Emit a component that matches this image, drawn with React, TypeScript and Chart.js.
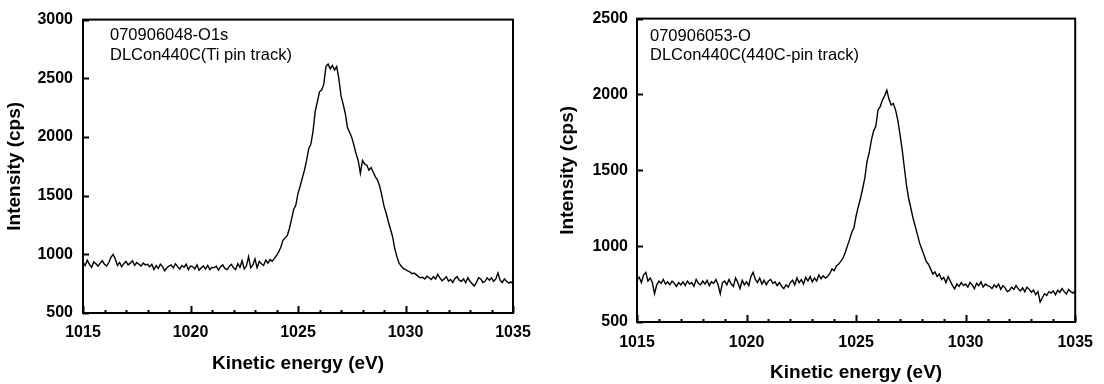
import React, { useEffect, useRef } from "react";
import { Chart, registerables } from "chart.js";

Chart.register(...registerables);

// Sampling grid of the spectra (kinetic energy, eV)
const ENERGY_START = 1015;
const ENERGY_STEP = 0.1;

const xTickValues = [1015, 1020, 1025, 1030, 1035];
const leftYTicks = [500, 1000, 1500, 2000, 2500, 3000];
const rightYTicks = [500, 1000, 1500, 2000, 2500];

const leftLabelLines = ["070906048-O1s", "DLCon440C(Ti pin track)"];
const rightLabelLines = ["070906053-O", "DLCon440C(440C-pin track)"];

// Intensity (cps), left panel
const leftCounts = [
  930, 905, 950, 915, 890, 935, 920, 900, 925, 945, 915,
  900, 930, 975, 1000, 960, 905, 930, 895, 920, 940,
  910, 925, 945, 905, 930, 915, 900, 925, 910, 915,
  895, 915, 870, 905, 880, 915, 895, 860, 885, 900,
  910, 885, 920, 895, 875, 905, 890, 915, 870, 900,
  895, 875, 910, 865, 885, 900, 875, 905, 870, 890,
  885, 900, 865, 895, 910, 880, 870, 895, 915, 885,
  870, 920, 890, 945, 875, 900, 980, 885, 910, 960,
  885, 940, 920, 905, 950, 925, 955, 940, 965, 990,
  1020, 1060, 1120, 1140, 1160, 1220, 1300, 1383, 1420, 1520,
  1580, 1650, 1717, 1800, 1900, 1940, 2050, 2218, 2300, 2385,
  2400, 2450, 2600, 2622, 2580, 2610, 2570, 2600, 2497, 2350,
  2280, 2200, 2080, 2040, 1996, 1930, 1857, 1800, 1690, 1800,
  1770, 1760, 1717, 1740, 1700, 1660, 1633, 1580, 1500, 1411,
  1350, 1280, 1216, 1150, 1049, 980, 924, 900, 880, 869,
  860, 850, 835, 840, 827, 810, 800, 805, 790, 814,
  800, 785, 810, 790, 830, 800, 775, 790, 810, 772,
  785, 760, 795, 810, 780, 770, 790, 758, 800, 770,
  750, 730, 760, 800, 790, 760, 770, 800, 780, 800,
  770, 790, 841, 780, 760, 790, 770, 755, 765, 750,
];

// Intensity (cps), right panel
const rightCounts = [
  780, 795, 760, 810, 827, 770, 790, 760, 686, 745, 770,
  755, 780, 750, 765, 745, 770, 755, 735, 760, 745,
  765, 740, 770, 750, 760, 735, 780, 755, 745, 770,
  750, 775, 740, 765, 755, 780, 745, 686, 760, 770,
  745, 780, 750, 735, 790, 760, 720, 775, 745, 765,
  740, 800, 827, 780, 760, 790, 750, 775, 745, 770,
  780, 755, 765, 740, 760, 735, 720, 745, 730, 760,
  775, 745, 790, 760, 780, 750, 795, 770, 800, 765,
  790, 770, 810, 785, 805, 790, 800, 820, 850, 838,
  870, 881, 900, 920, 957, 1000, 1043, 1090, 1119, 1200,
  1260, 1314, 1380, 1450, 1560, 1617, 1700, 1760, 1790, 1898,
  1920, 1963, 1990, 2028, 1970, 1931, 1940, 1898, 1833, 1740,
  1640, 1520, 1400, 1314, 1250, 1184, 1130, 1076, 1020, 980,
  940, 900, 881, 850, 816, 830, 800, 816, 780, 794,
  760, 800, 770, 740, 719, 750, 735, 760, 740, 751,
  730, 760, 745, 720, 755, 740, 765, 730, 750, 740,
  735, 720, 745, 729, 750, 715, 740, 725, 700, 708,
  730, 715, 740, 719, 705, 725, 700, 730, 715, 697,
  710, 680, 700, 632, 660, 686, 675, 700, 690, 705,
  680, 710, 695, 720, 700, 685, 715, 700, 690, 705,
];

const FONT = "'Liberation Sans', Arial, Helvetica, sans-serif";

type PanelCfg = {
  counts: number[];
  yMin: number;
  yMax: number;
  yTicks: number[];
  lines: string[];
  width: number;
  padTop: number;
  padRight: number;
  yAxisWidth: number;
  xAxisHeight: number;
  xTickPad: number;
  yTickPad: number;
  yTitlePad: number;
  xTitlePad: number;
  textDx: number;
  textY: number[];
};

function makePlugin(cfg: PanelCfg) {
  return {
    id: "frameTicks",
    afterDraw(chart: any) {
      const { ctx, chartArea: a, scales } = chart;
      const xs = scales.x;
      const ys = scales.y;
      ctx.save();
      ctx.strokeStyle = "#000";
      ctx.lineWidth = 2;
      ctx.strokeRect(a.left, a.top, a.right - a.left, a.bottom - a.top);
      // x ticks (inward), minor each 1 eV, major each 5 eV
      for (let v = xs.min; v <= xs.max + 1e-6; v += 1) {
        const px = Math.round(xs.getPixelForValue(v)) + 0.5;
        const major = xTickValues.includes(Math.round(v));
        const len = major ? 7 : 3;
        ctx.beginPath();
        ctx.moveTo(px, a.bottom);
        ctx.lineTo(px, a.bottom - len);
        ctx.stroke();
      }
      for (const v of cfg.yTicks) {
        const py = Math.round(ys.getPixelForValue(v)) + 0.5;
        ctx.beginPath();
        ctx.moveTo(a.left, py);
        ctx.lineTo(a.left + 6, py);
        ctx.stroke();
      }
      ctx.fillStyle = "#000";
      ctx.font = `16.5px ${FONT}`;
      ctx.textBaseline = "middle";
      ctx.textAlign = "left";
      cfg.lines.forEach((t, i) => {
        ctx.fillText(t, a.left + cfg.textDx, cfg.textY[i]);
      });
      ctx.restore();
    },
  };
}

function Panel({ cfg }: { cfg: PanelCfg }) {
  const ref = useRef<HTMLCanvasElement | null>(null);
  useEffect(() => {
    if (!ref.current) return;
    const points = cfg.counts.map((c, i) => ({
      x: ENERGY_START + i * ENERGY_STEP,
      y: c,
    }));
    const tickFont = { family: FONT, size: 16, weight: "bold" as const };
    const titleFont = { family: FONT, size: 19, weight: "bold" as const };
    const chart = new Chart(ref.current, {
      type: "scatter",
      data: {
        datasets: [
          {
            data: points,
            showLine: true,
            borderColor: "#000",
            backgroundColor: "#000",
            borderWidth: 1.4,
            pointRadius: 0,
            tension: 0,
          },
        ],
      },
      options: {
        responsive: false,
        animation: false,
        events: [],
        layout: {
          padding: { top: cfg.padTop, right: cfg.padRight, bottom: 0, left: 0 },
        },
        plugins: {
          legend: { display: false },
          tooltip: { enabled: false },
        },
        scales: {
          x: {
            type: "linear",
            min: 1015,
            max: 1035,
            afterBuildTicks: (s: any) => {
              s.ticks = xTickValues.map((v) => ({ value: v }));
            },
            afterFit: (s: any) => {
              s.height = cfg.xAxisHeight;
            },
            ticks: {
              color: "#000",
              font: tickFont,
              padding: cfg.xTickPad,
              maxRotation: 0,
              autoSkip: false,
              callback: (v: any) => String(v),
            },
            grid: { display: false, drawTicks: false },
            border: { display: false },
            title: {
              display: true,
              text: "Kinetic energy (eV)",
              color: "#000",
              font: titleFont,
              padding: { top: 0, bottom: cfg.xTitlePad },
            },
          },
          y: {
            type: "linear",
            min: cfg.yMin,
            max: cfg.yMax,
            afterBuildTicks: (s: any) => {
              s.ticks = cfg.yTicks.map((v) => ({ value: v }));
            },
            afterFit: (s: any) => {
              s.width = cfg.yAxisWidth;
            },
            ticks: {
              color: "#000",
              font: tickFont,
              padding: cfg.yTickPad,
              autoSkip: false,
              callback: (v: any) => String(v),
            },
            grid: { display: false, drawTicks: false },
            border: { display: false },
            title: {
              display: true,
              text: "Intensity (cps)",
              color: "#000",
              font: titleFont,
              padding: { top: cfg.yTitlePad, bottom: 0 },
            },
          },
        },
      },
      plugins: [makePlugin(cfg)],
    } as any);
    return () => chart.destroy();
  }, [cfg]);
  return <canvas ref={ref} width={cfg.width} height={384} style={{ display: "block" }} />;
}

const leftCfg: PanelCfg = {
  counts: leftCounts,
  yMin: 500,
  yMax: 3000,
  yTicks: leftYTicks,
  lines: leftLabelLines,
  width: 545,
  padTop: 13,
  padRight: 32,
  yAxisWidth: 83,
  xAxisHeight: 71,
  xTickPad: 10,
  yTickPad: 10,
  yTitlePad: 3,
  xTitlePad: 9,
  textDx: 27,
  textY: [35, 55],
};

const rightCfg: PanelCfg = {
  counts: rightCounts,
  yMin: 500,
  yMax: 2500,
  yTicks: rightYTicks,
  lines: rightLabelLines,
  width: 554,
  padTop: 14,
  padRight: 25,
  yAxisWidth: 87,
  xAxisHeight: 62,
  xTickPad: 11,
  yTickPad: 9,
  yTitlePad: 6,
  xTitlePad: 0,
  textDx: 13,
  textY: [36, 55],
};

export default function App() {
  return (
    <div
      style={{
        position: "fixed",
        left: 0,
        top: 0,
        width: 1104,
        height: 384,
        background: "#fff",
        overflow: "hidden",
      }}
    >
      <div style={{ position: "absolute", left: 0, top: 0, width: 545, height: 384 }}>
        <Panel cfg={leftCfg} />
      </div>
      <div style={{ position: "absolute", left: 550, top: 0, width: 554, height: 384 }}>
        <Panel cfg={rightCfg} />
      </div>
    </div>
  );
}
